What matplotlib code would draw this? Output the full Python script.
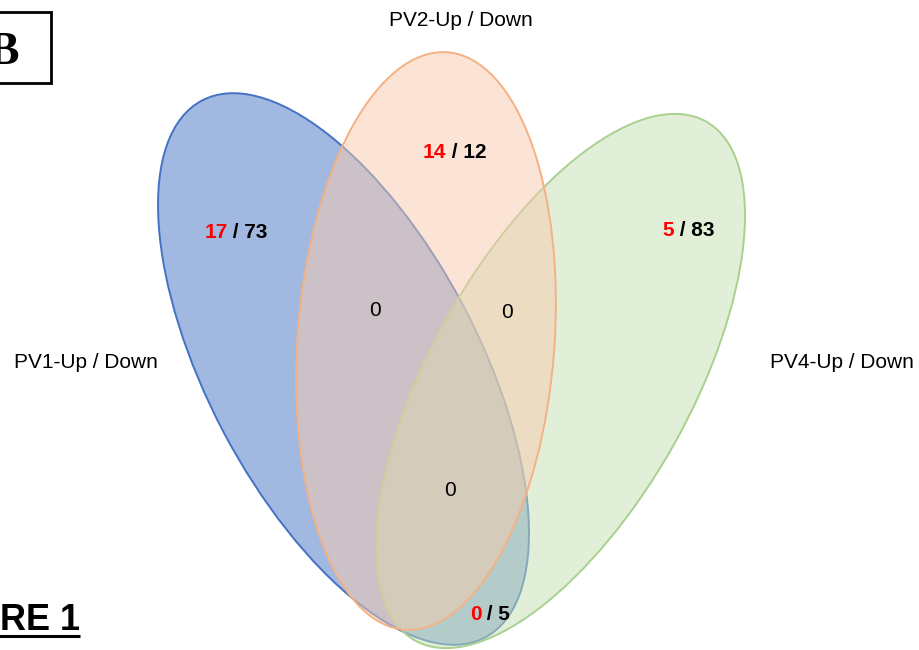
import matplotlib.pyplot as plt
from matplotlib.patches import Ellipse, Rectangle
from matplotlib.offsetbox import TextArea, HPacker, AnnotationBbox

plt.rcParams['font.family'] = ['Liberation Sans', 'DejaVu Sans']

# sets and their region counts (up / down)
set_names = ['PV1-Up / Down', 'PV2-Up / Down', 'PV4-Up / Down']
only_up = [17, 14, 5]
only_down = [73, 12, 83]
pair_labels = ['PV1&PV2', 'PV2&PV4', 'PV1&PV4']
pair_up = [None, None, 0]
pair_down = [None, None, 5]
pair_plain = [0, 0, None]
all_three = 0

W, H = 919, 650
fig = plt.figure(figsize=(W / 100, H / 100), dpi=100)
ax = fig.add_axes([0, 0, 1, 1])
ax.set_xlim(0, W)
ax.set_ylim(H, 0)
ax.axis('off')

# ellipse geometry: centre, width, height, angle (pixel space, y down)
shapes = {
    'PV1': dict(xy=(343.5, 369), w=607, h=271, ang=62.2, fc='#4472C4', ec='#4472C4', z=1),
    'PV4': dict(xy=(560.5, 381), w=595, h=260, ang=-60.7, fc='#C5E0B4', ec='#A9D18E', z=2),
    'PV2': dict(xy=(426, 341), w=579, h=257, ang=-85.8, fc='#F8CBAD', ec='#F4B183', z=3),
}
for s in shapes.values():
    ax.add_patch(Ellipse(s['xy'], s['w'], s['h'], angle=s['ang'], facecolor=s['fc'],
                         edgecolor='none', alpha=0.5, zorder=s['z']))
    ax.add_patch(Ellipse(s['xy'], s['w'], s['h'], angle=s['ang'], facecolor='none',
                         edgecolor=s['ec'], lw=1.4, zorder=s['z']))

fs = 15
name_pos = [(86, 363), (461, 20), (842, 363)]
for name, (x, y) in zip(set_names, name_pos):
    ax.text(x, y, name, ha='center', va='center', fontsize=fs, zorder=5)


def up_down(x, y, up, down):
    red = TextArea(str(up), textprops=dict(color='#FF0000', fontsize=fs, fontweight='bold'))
    blk = TextArea(' / %d' % down, textprops=dict(color='black', fontsize=fs, fontweight='bold'))
    box = HPacker(children=[red, blk], align='baseline', pad=0, sep=0)
    ax.add_artist(AnnotationBbox(box, (x, y), frameon=False, box_alignment=(0.5, 0.5), zorder=6))


only_pos = [(236, 233), (455, 152), (688, 231)]
for (x, y), u, d in zip(only_pos, only_up, only_down):
    up_down(x, y, u, d)

pair_pos = [(375, 311), (507, 313), (490, 615)]
for (x, y), u, d, p in zip(pair_pos, pair_up, pair_down, pair_plain):
    if p is not None:
        ax.text(x, y, str(p), ha='center', va='center', fontsize=fs, zorder=6)
    else:
        up_down(x, y, u, d)

ax.text(450, 490, str(all_three), ha='center', va='center', fontsize=fs, zorder=6)

# panel letter in its box
ax.add_patch(Rectangle((-10, 12), 61, 71, facecolor='white', edgecolor='black', lw=2, zorder=7))
ax.text(-12, 53, 'B', ha='left', va='center', fontsize=33, fontweight='bold',
        family=['Liberation Serif', 'DejaVu Serif'], zorder=8)

# caption, underlined
ax.text(0, 630, 'RE 1', ha='left', va='baseline', fontsize=26, fontweight='bold', zorder=8)
ax.plot([-10, 80], [636, 636], color='black', lw=2.2, zorder=8, solid_capstyle='butt')

fig.savefig('out.png', dpi=100)
